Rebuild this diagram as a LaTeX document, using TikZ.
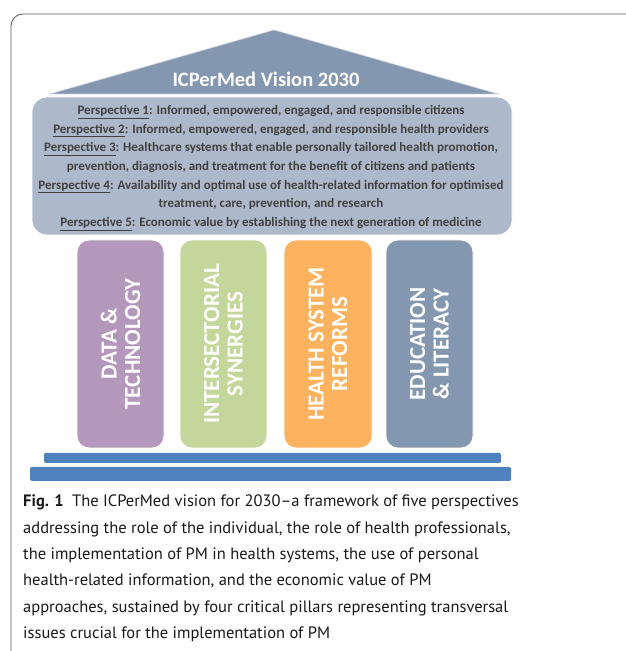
\documentclass[tikz,border=0pt]{standalone}
\usepackage{fontspec}
\setmainfont{Carlito}
\newfontfamily\capfont{PT Sans}
\definecolor{roof}{HTML}{8497B0}
\definecolor{board}{HTML}{ADB9CA}
\definecolor{ptext}{HTML}{404040}
\definecolor{pA}{HTML}{B498BB}
\definecolor{pB}{HTML}{C4D79B}
\definecolor{pC}{HTML}{FDB25F}
\definecolor{pD}{HTML}{8497B0}
\definecolor{basec}{HTML}{4F81BD}
\definecolor{framec}{HTML}{555555}
\tikzset{
  pillar/.style={draw=white, line width=0.8pt, rounded corners=12pt, fill=#1},
  pillartext/.style={rotate=90, text=white, font=\fontsize{23}{23.5}\selectfont\bfseries, align=center},
  basebar/.style={fill=basec, rounded corners=1.5pt},
}
\begin{document}
\begin{tikzpicture}[x=1pt,y=1pt]
\useasboundingbox (0,0) rectangle (625,651);
% frame
\draw[framec, line width=0.8pt, rounded corners=12pt] (11,-10) -- (11,637) -- (640,637);
% roof
\path[fill=roof, draw=board!70!white, line width=0.6pt] (274,621) coordinate (apex) -- (498,557) coordinate (roofR) -- (50,557) coordinate (roofL) -- cycle;
\node[text=white, font=\fontsize{20.5}{22}\selectfont\bfseries] (title) at (266,572) {ICPerMed Vision 2030};
% board
\path[fill=board, draw=white, line width=0.8pt, rounded corners=15pt] (32,416) rectangle (512,554);
\node[text=ptext, font=\fontsize{13}{18.7}\selectfont\bfseries, align=center] (persp) at (271,483)
{\underline{Perspective 1}: Informed, empowered, engaged, and responsible citizens\\
\underline{Perspective 2}: Informed, empowered, engaged, and responsible health providers\\
\underline{Perspective 3}: Healthcare systems that enable personally tailored health promotion,\\
prevention, diagnosis, and treatment for the benefit of citizens and patients\\
\underline{Perspective 4}: Availability and optimal use of health-related information for optimised\\
treatment, care, prevention, and research\\
\underline{Perspective 5}: Economic value by establishing the next generation of medicine};
% pillars
\path[pillar=pA] (77,203) rectangle (164,411);
\path[pillar=pB] (180,203) rectangle (267,411);
\path[pillar=pC] (284,203) rectangle (372,411);
\path[pillar=pD] (386,203) rectangle (473,411);
\node[pillartext] (p1) at (120.5,307) {DATA \&\\TECHNOLOGY};
\node[pillartext] (p2) at (223.5,307) {INTERSECTORIAL\\SYNERGIES};
\node[pillartext] (p3) at (328,307) {HEALTH SYSTEM\\REFORMS};
\node[pillartext] (p4) at (429.5,307) {EDUCATION\\\& LITERACY};
% base
\path[basebar] (44,188) rectangle (501,198);
\path[basebar] (30,170) rectangle (511,184);
% caption
\node[anchor=north west, inner sep=0pt, align=left, text=black!90, font=\capfont\fontsize{16.5}{26.3}\selectfont] (cap) at (23,156)
{\textbf{Fig. 1}\hspace{0.5em}The ICPerMed vision for 2030–a framework of five perspectives\\
addressing the role of the individual, the role of health professionals,\\
the implementation of PM in health systems, the use of personal\\
health-related information, and the economic value of PM\\
approaches, sustained by four critical pillars representing transversal\\
issues crucial for the implementation of PM};
\end{tikzpicture}
\end{document}
